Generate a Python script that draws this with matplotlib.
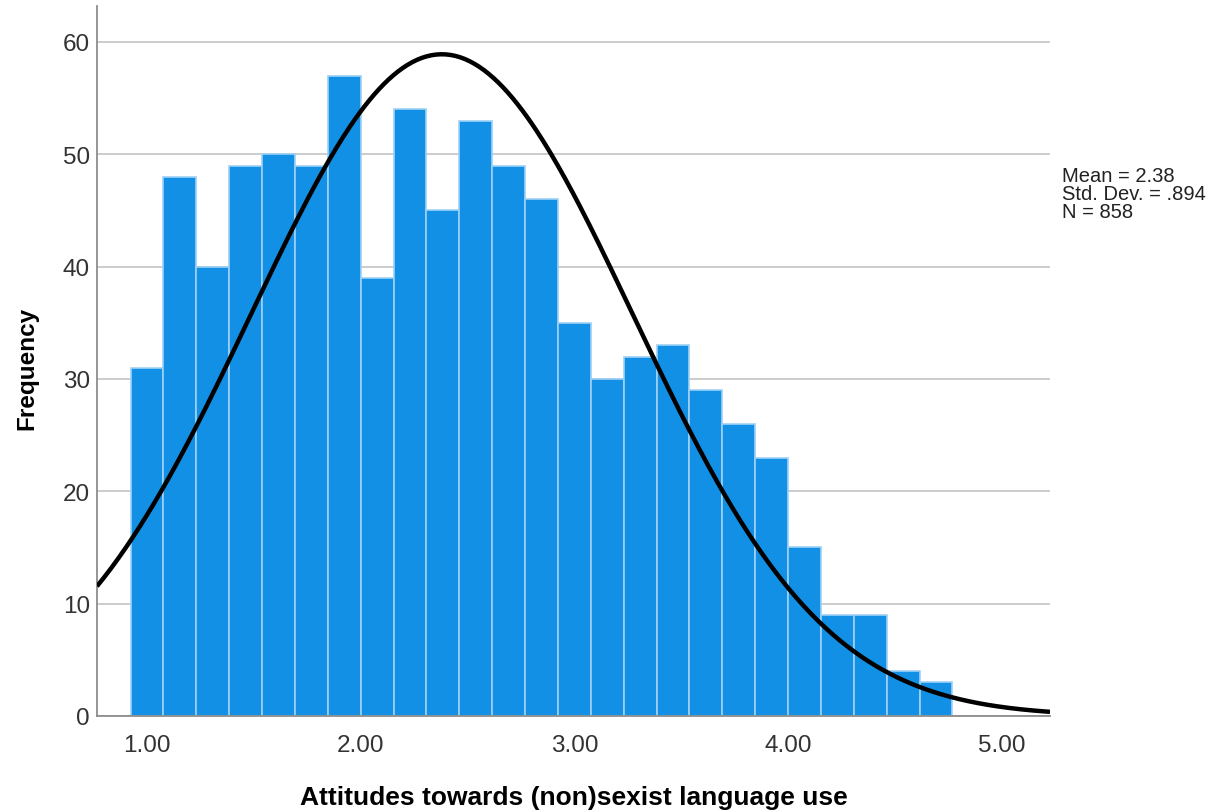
import numpy as np
import matplotlib
matplotlib.use("Agg")
import matplotlib.pyplot as plt

# Data
bin_width = 2 / 13
first_center = 1.0
counts = [31, 48, 40, 49, 50, 49, 57, 39, 54, 45, 53, 49, 46, 35, 30, 32, 33,
          29, 26, 23, 15, 9, 9, 4, 3]
mean_val = 2.38
sd_val = 0.894
n_val = 858
x_ticks = [1, 2, 3, 4, 5]
x_tick_labels = ["1.00", "2.00", "3.00", "4.00", "5.00"]
y_ticks = [0, 10, 20, 30, 40, 50, 60]
x_label = "Attitudes towards (non)sexist language use"
y_label = "Frequency"

plt.rcParams['font.family'] = ['Liberation Sans', 'DejaVu Sans']

fig = plt.figure(figsize=(12.2, 8.12), dpi=100)
ax = fig.add_axes([97/1220, 1-717/812, (1050-97)/1220, (717-7)/812])

centers = first_center + bin_width * np.arange(len(counts))
ax.bar(centers, counts, width=bin_width, color='#1290E6',
       edgecolor='#9fd0f5', linewidth=1.2, zorder=2)

xmin, xmax = 0.766, 5.226
xs = np.linspace(xmin, xmax, 400)
pdf = np.exp(-0.5 * ((xs - mean_val) / sd_val) ** 2) / (sd_val * np.sqrt(2 * np.pi))
ax.plot(xs, pdf * n_val * bin_width, color='black', linewidth=3.2, zorder=3,
        solid_capstyle='butt')

ax.set_xlim(xmin, xmax)
ax.set_ylim(0, 63.2)
ax.set_xticks(x_ticks)
ax.set_xticklabels(x_tick_labels)
ax.set_yticks(y_ticks)
ax.yaxis.grid(True, color='#c8c8c8', linewidth=1.3, zorder=0)
ax.set_axisbelow(True)
ax.tick_params(axis='both', length=0, labelsize=17.5, labelcolor='#333333')
ax.tick_params(axis='x', pad=13)
ax.tick_params(axis='y', pad=5)
for s in ['top', 'right']:
    ax.spines[s].set_visible(False)
for s in ['left', 'bottom']:
    ax.spines[s].set_color('#8c8c8c')
    ax.spines[s].set_linewidth(1.3)

ax.set_xlabel(x_label, fontsize=19, fontweight='bold', va='center')
ax.xaxis.set_label_coords(0.5, (717 - 798) / 710)
ax.set_ylabel(y_label, fontsize=17.5, fontweight='bold', va='center')
ax.yaxis.set_label_coords((27 - 97) / 953, (717 - 368) / 710)

fig.text(1062/1220, 1-167/812,
         f"Mean = {mean_val:.2f}\nStd. Dev. = {str(sd_val)[1:]}\nN = {n_val}",
         fontsize=14.5, va='top', ha='left', color='#222222', linespacing=0.92)

fig.savefig("out.png", dpi=100)
